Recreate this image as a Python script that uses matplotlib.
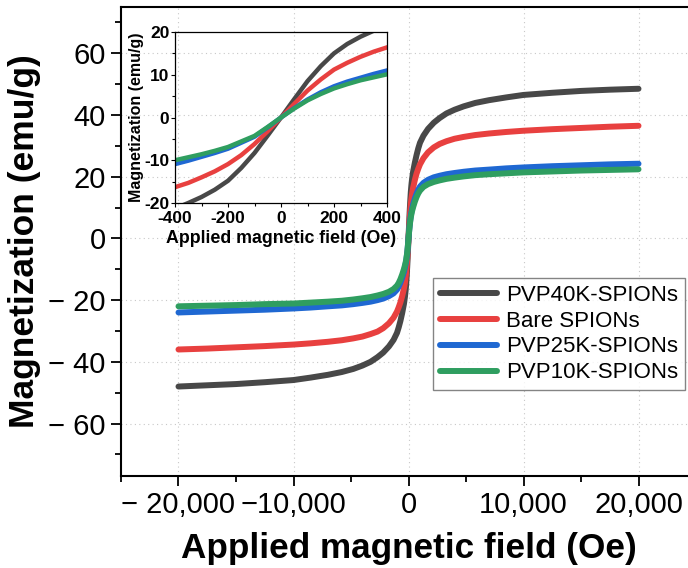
import matplotlib
matplotlib.use("Agg")
import matplotlib.pyplot as plt
from matplotlib.ticker import MultipleLocator, FixedLocator

plt.rcParams['font.family'] = ['Liberation Sans', 'DejaVu Sans']

# Applied field (Oe)
field = [-20000, -17500, -15000, -12500, -10000, -8500, -7000, -5800, -4800, -4000,
         -3300, -2700, -2200, -1700, -1300, -1000, -850, -700, -550, -400,
         -350, -300, -250, -200, -150, -100, -50, 0, 50, 100, 150, 200, 250, 300, 350,
         400, 550, 700, 850, 1000, 1300, 1700, 2200, 2700, 3300,
         4000, 4800, 5800, 7000, 8500, 10000, 12500, 15000, 17500, 20000]

pvp40k = [-48.0, -47.6, -47.2, -46.6, -45.9, -45.1, -44.2, -43.3, -42.3, -41.2,
          -40.0, -38.5, -37.0, -35.0, -32.9, -30.6, -28.8, -26.7, -24.2, -21.3,
          -20.0, -18.6, -16.9, -14.8, -11.8, -8.3, -4.2, 0.0, 4.3, 8.5, 12.0, 15.0, 17.2, 18.9, 20.3,
          21.6, 24.5, 27.0, 29.2, 31.0, 33.3, 35.5, 37.5, 39.0, 40.5,
          41.7, 42.8, 43.9, 44.8, 45.7, 46.5, 47.2, 47.8, 48.2, 48.5]

bare = [-36.0, -35.7, -35.3, -34.9, -34.4, -34.0, -33.5, -33.0, -32.4, -31.8,
        -31.0, -30.2, -29.1, -27.5, -25.7, -23.7, -22.3, -20.7, -18.7, -16.3,
        -15.3, -14.0, -12.6, -10.9, -8.8, -6.2, -3.2, 0.0, 3.2, 6.3, 8.9, 11.2, 12.8, 14.2, 15.4,
        16.4, 18.9, 21.0, 22.6, 24.0, 26.0, 27.9, 29.5, 30.6, 31.5,
        32.3, 32.9, 33.5, 34.0, 34.5, 34.9, 35.4, 35.8, 36.2, 36.5]

pvp25k = [-24.0, -23.7, -23.4, -23.1, -22.7, -22.4, -22.0, -21.7, -21.3, -20.9,
          -20.5, -20.0, -19.5, -18.7, -17.8, -16.6, -15.6, -14.3, -12.7, -10.9,
          -10.1, -9.2, -8.3, -7.3, -5.9, -4.5, -2.3, 0.0, 2.2, 4.2, 5.9, 7.3, 8.4, 9.3, 10.2,
          11.0, 12.9, 14.5, 15.8, 16.8, 18.0, 19.0, 19.8, 20.3, 20.8,
          21.2, 21.6, 22.0, 22.3, 22.7, 23.0, 23.4, 23.7, 24.0, 24.2]

pvp10k = [-22.0, -21.8, -21.6, -21.3, -21.1, -20.8, -20.5, -20.2, -19.8, -19.4,
          -19.0, -18.5, -18.0, -17.3, -16.4, -15.3, -14.4, -13.2, -11.7, -10.0,
          -9.3, -8.6, -7.8, -6.9, -5.6, -4.3, -2.2, 0.0, 2.1, 4.0, 5.5, 6.8, 7.8, 8.7, 9.4,
          10.1, 11.9, 13.4, 14.6, 15.5, 16.7, 17.6, 18.3, 18.8, 19.3,
          19.7, 20.1, 20.5, 20.8, 21.1, 21.4, 21.7, 22.0, 22.2, 22.4]

series_labels = ['PVP40K-SPIONs', 'Bare SPIONs', 'PVP25K-SPIONs', 'PVP10K-SPIONs']
series_values = [pvp40k, bare, pvp25k, pvp10k]
series_colors = ['#484848', '#e8403f', '#1f68d2', '#2f9e60']

x_ticks = [-20000, -10000, 0, 10000, 20000]
x_tick_labels = ['\u2212 20,000', '\u221210,000', '0', '10,000', '20,000']
y_ticks = [-60, -40, -20, 0, 20, 40, 60]
y_tick_labels = ['\u2212 60', '\u2212 40', '\u2212 20', '0', '20', '40', '60']

inset_x_ticks = [-400, -200, 0, 200, 400]
inset_x_labels = ['-400', '-200', '0', '200', '400']
inset_y_ticks = [-20, -10, 0, 10, 20]
inset_y_labels = ['-20', '-10', '0', '10', '20']

fig = plt.figure(figsize=(6.88, 5.68), dpi=100)
W, H = 688, 568
ax = fig.add_axes([121 / W, (H - 476) / H, 575 / W, 469 / H])

for vals, lab, col in zip(series_values, series_labels, series_colors):
    ax.plot(field, vals, color=col, lw=4.3, label=lab, solid_capstyle='round',
            solid_joinstyle='round', zorder=3)

ax.set_xlim(-25000, 25000)
ax.set_ylim(-77, 75)
ax.xaxis.set_major_locator(FixedLocator(x_ticks))
ax.set_xticklabels(x_tick_labels)
ax.xaxis.set_minor_locator(MultipleLocator(5000))
ax.yaxis.set_major_locator(FixedLocator(y_ticks))
ax.set_yticklabels(y_tick_labels)
ax.yaxis.set_minor_locator(MultipleLocator(10))
ax.tick_params(which='major', direction='out', length=7, width=1.3, labelsize=21, pad=4)
ax.tick_params(which='minor', direction='out', length=4, width=1.3)
for s in ax.spines.values():
    s.set_linewidth(1.5)
ax.grid(True, which='major', linestyle=(0, (1, 3)), color='#c8c8c8', lw=0.8, zorder=0)
ax.set_xlabel('Applied magnetic field (Oe)', fontsize=25.3, fontweight='bold', labelpad=9)
ax.set_ylabel('Magnetization (emu/g)', fontsize=25.5, fontweight='bold', labelpad=5)

leg = ax.legend(loc='upper left', bbox_to_anchor=(433 / W, 1 - 278 / H),
                bbox_transform=fig.transFigure, fontsize=16, frameon=True,
                fancybox=False, edgecolor='#666666', handlelength=2.6,
                labelspacing=0.22, borderpad=0.3, handletextpad=0.4, borderaxespad=0)
leg.get_frame().set_linewidth(1.0)
for line in leg.get_lines():
    line.set_linewidth(4.3)

# Inset
axi = fig.add_axes([175 / W, (H - 203) / H, 212 / W, 171 / H])
axi.patch.set_alpha(0)
for vals, col in zip(series_values, series_colors):
    axi.plot(field, vals, color=col, lw=3.2, solid_capstyle='round', solid_joinstyle='round')
axi.set_xlim(-400, 400)
axi.set_ylim(-20, 20)
axi.xaxis.set_major_locator(FixedLocator(inset_x_ticks))
axi.set_xticklabels(inset_x_labels)
axi.xaxis.set_minor_locator(MultipleLocator(100))
axi.yaxis.set_major_locator(FixedLocator(inset_y_ticks))
axi.set_yticklabels(inset_y_labels)
axi.yaxis.set_minor_locator(MultipleLocator(5))
axi.tick_params(which='major', direction='out', length=3, width=0.8, labelsize=12.5, pad=1)
axi.tick_params(axis='x', which='major', pad=2.5)
axi.tick_params(which='minor', direction='out', length=2, width=0.8)
for t in axi.get_xticklabels() + axi.get_yticklabels():
    t.set_fontweight('bold')
for s in axi.spines.values():
    s.set_linewidth(0.9)
axi.set_xlabel('Applied magnetic field (Oe)', fontsize=12.8, fontweight='bold', labelpad=3)
axi.set_ylabel('Magnetization (emu/g)', fontsize=11.5, fontweight='bold', labelpad=0)

fig.savefig('out.png', dpi=100)
